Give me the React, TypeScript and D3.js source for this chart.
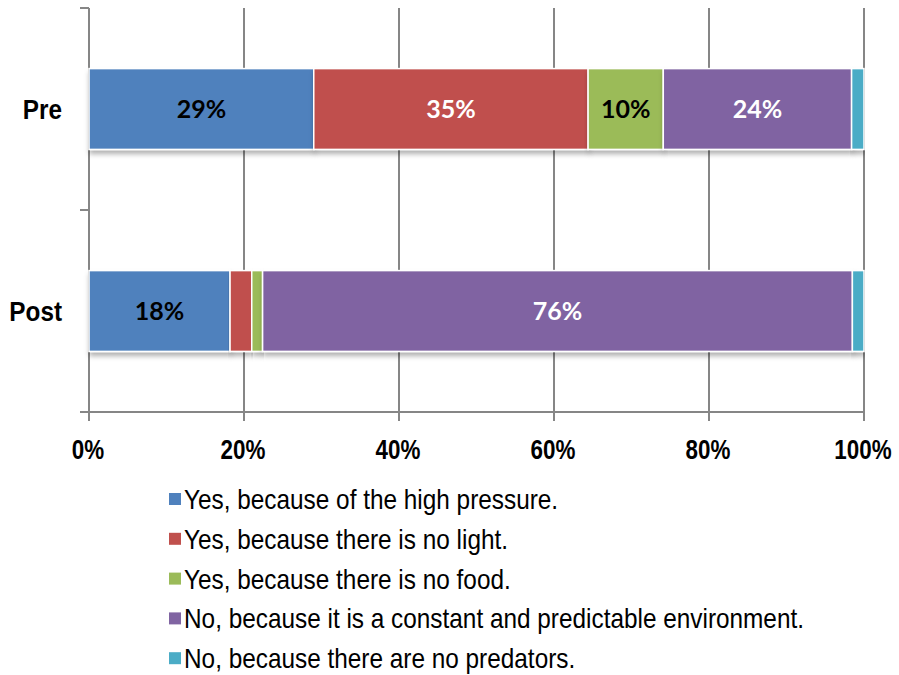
import React, { useEffect, useRef } from "react";
import * as d3 from "d3";

const categories = ["Pre", "Post"];
const seriesNames = [
  "Yes, because of the high pressure.",
  "Yes, because there is no light.",
  "Yes, because there is no food.",
  "No, because it is a constant and predictable environment.",
  "No, because there are no predators.",
];
const preValues = [29, 35.4, 9.7, 24.3, 1.6];
const postValues = [18.2, 2.8, 1.4, 76.1, 1.5];
const preLabels = ["29%", "35%", "10%", "24%", ""];
const postLabels = ["18%", "", "", "76%", ""];
const colors = ["#4F81BD", "#C0504D", "#9BBB59", "#8064A2", "#4BACC6"];
const labelColors = ["#000", "#fff", "#000", "#fff", "#000"];
const xTicks = [0, 20, 40, 60, 80, 100];

export default function App() {
  const svgRef = useRef<SVGSVGElement | null>(null);

  useEffect(() => {
    if (!svgRef.current) return;
    const root = d3.select(svgRef.current);
    root.selectAll("*").remove();

    const width = 899;
    const height = 675;
    root.attr("width", width).attr("height", height);

    // no Arial Narrow available, so squeeze Liberation Sans horizontally
    const sans = "'Liberation Sans', Arial, sans-serif";
    const left = 89;
    const right = 864;
    const top = 8;
    const bottom = 412;

    const x = d3.scaleLinear().domain([0, 100]).range([left, right]);
    const y = d3
      .scaleBand<string>()
      .domain(categories)
      .range([top, bottom])
      .paddingInner(0.6)
      .paddingOuter(0.3);

    const defs = root.append("defs");
    const filter = defs
      .append("filter")
      .attr("id", "shadow")
      .attr("x", "-5%")
      .attr("y", "-10%")
      .attr("width", "110%")
      .attr("height", "140%");
    filter
      .append("feDropShadow")
      .attr("dx", 1)
      .attr("dy", 4)
      .attr("stdDeviation", 2.5)
      .attr("flood-color", "#000")
      .attr("flood-opacity", 0.3);

    const g = root.append("g");
    const grid = "#868686";

    // gridlines
    g.selectAll("line.grid")
      .data(xTicks.filter((d) => d > 0))
      .join("line")
      .attr("x1", (d) => x(d))
      .attr("x2", (d) => x(d))
      .attr("y1", top)
      .attr("y2", bottom + 9)
      .attr("stroke", grid)
      .attr("stroke-width", 2);

    // y axis line + ticks
    g.append("line")
      .attr("x1", left)
      .attr("x2", left)
      .attr("y1", top)
      .attr("y2", bottom + 9)
      .attr("stroke", grid)
      .attr("stroke-width", 2);
    const yTickPos = [top, (top + bottom) / 2, bottom];
    g.selectAll("line.ytick")
      .data(yTickPos)
      .join("line")
      .attr("x1", left - 9)
      .attr("x2", left)
      .attr("y1", (d) => d)
      .attr("y2", (d) => d)
      .attr("stroke", grid)
      .attr("stroke-width", 2);

    // x axis
    g.append("line")
      .attr("x1", left - 9)
      .attr("x2", right)
      .attr("y1", bottom)
      .attr("y2", bottom)
      .attr("stroke", grid)
      .attr("stroke-width", 2);

    g.selectAll("text.xtick")
      .data(xTicks)
      .join("text")
      .attr("transform", (d) => `translate(${x(d) - 1},459) scale(0.8,1)`)
      .attr("text-anchor", "middle")
      .style("font-family", sans)
      .style("font-weight", "bold")
      .style("font-size", "28px")
      .text((d) => `${d}%`);

    const rows = [
      { cat: "Pre", values: preValues, labels: preLabels },
      { cat: "Post", values: postValues, labels: postLabels },
    ];

    rows.forEach((row) => {
      let cum = 0;
      const segs = row.values.map((v, i) => {
        const s = { x0: cum, x1: cum + v, i, label: row.labels[i] };
        cum += v;
        return s;
      });
      const by = y(row.cat) as number;
      const bh = y.bandwidth();
      const rg = g.append("g");
      rg.selectAll("rect")
        .data(segs)
        .join("rect")
        .attr("x", (d) => x(d.x0))
        .attr("y", by)
        .attr("width", (d) => x(d.x1) - x(d.x0))
        .attr("height", bh)
        .attr("fill", (d) => colors[d.i])
        .attr("stroke", "#fff")
        .attr("stroke-width", 1.5)
        .attr("filter", "url(#shadow)");
      rg.selectAll("text")
        .data(segs.filter((d) => d.label))
        .join("text")
        .attr("x", (d) => (x(d.x0) + x(d.x1)) / 2)
        .attr("y", by + bh / 2 + 9)
        .attr("text-anchor", "middle")
        .attr("fill", (d) => labelColors[d.i])
        .style("font-family", "Lato, 'Open Sans', sans-serif")
        .style("font-weight", "bold")
        .style("font-size", "25px")
        .text((d) => d.label);

      g.append("text")
        .attr("transform", `translate(62,${by + bh / 2 + 9.5}) scale(0.9,1)`)
        .attr("text-anchor", "end")
        .style("font-family", sans)
        .style("font-weight", "bold")
        .style("font-size", "27px")
        .text(row.cat);
    });

    // legend
    const legend = root.append("g");
    seriesNames.forEach((name, i) => {
      const ly = 499 + i * 39.8;
      legend
        .append("rect")
        .attr("x", 169)
        .attr("y", ly - 6)
        .attr("width", 12)
        .attr("height", 12)
        .attr("fill", colors[i]);
      legend
        .append("text")
        .attr("transform", `translate(184,${ly + 10}) scale(0.87,1)`)
        .style("font-family", sans)
        .style("font-size", "28px")
        .text(name);
    });
  }, []);

  return (
    <div style={{ position: "absolute", left: 0, top: 0 }}>
      <svg ref={svgRef}></svg>
    </div>
  );
}
